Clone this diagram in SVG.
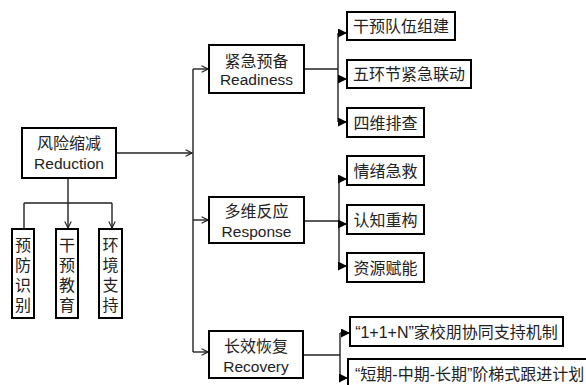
<svg xmlns="http://www.w3.org/2000/svg" width="586" height="385" viewBox="0 0 586 385">
<defs>
<style>
.box{fill:#fff;stroke:#000;stroke-width:2}
.cn{font-family:"Noto Sans CJK SC","Liberation Sans",sans-serif;font-size:16px;fill:#222}
.vt{font-family:"Noto Sans CJK SC","Liberation Sans",sans-serif;font-size:16px;fill:#222;writing-mode:vertical-rl;letter-spacing:4px}
.en{font-family:"Liberation Sans",Arial,sans-serif;font-size:15.5px;fill:#222}
.mx{font-family:"Liberation Sans","Noto Sans CJK SC",sans-serif;font-size:16px;fill:#222}
.ln{fill:none;stroke:#222;stroke-width:1.4}
.oa{marker-end:url(#open)}
.fa{marker-end:url(#fill)}
</style>
<marker id="open" viewBox="0 0 10 10" refX="9" refY="5" markerWidth="8" markerHeight="8" markerUnits="userSpaceOnUse" orient="auto">
<path d="M1,1 L9,5 L1,9" fill="none" stroke="#222" stroke-width="1.4"/>
</marker>
<marker id="fill" viewBox="0 0 10 10" refX="10" refY="5" markerWidth="9" markerHeight="9" markerUnits="userSpaceOnUse" orient="auto">
<path d="M0,0 L10,5 L0,10 z" fill="#000"/>
</marker>
</defs>
<rect width="586" height="385" fill="#fff"/>
<g id="connectors">
<path class="ln oa" d="M116,153 H192"/>
<path class="ln" d="M193,69 V352"/>
<path class="ln oa" d="M193,69 H208"/>
<path class="ln oa" d="M193,220 H208"/>
<path class="ln oa" d="M193,352 H208"/>
<path class="ln" d="M68,178 V203 M24,203 H112 M24,203 V229"/>
<path class="ln oa" d="M68,203 V228"/>
<path class="ln oa" d="M112,203 V228"/>
<path class="ln" d="M304,69 H338 M338,33 V122"/>
<path class="ln fa" d="M338,33 H347"/>
<path class="ln fa" d="M338,79 H347"/>
<path class="ln fa" d="M338,122 H347"/>
<path class="ln" d="M304,221 H339 M339,179 V266"/>
<path class="ln fa" d="M339,179 H347"/>
<path class="ln fa" d="M339,224 H347"/>
<path class="ln fa" d="M339,266 H347"/>
<path class="ln" d="M303,355 H340 M340,333 V378"/>
<path class="ln fa" d="M340,333 H350"/>
<path class="ln fa" d="M340,378 H348"/>
</g>
<g id="reduction">
<rect class="box" x="22" y="128" width="94" height="50"/>
<text class="cn" x="69" y="149" text-anchor="middle">风险缩减</text>
<text class="en" x="69" y="168.5" text-anchor="middle">Reduction</text>
</g>
<g id="yufang">
<rect class="box" x="12" y="229" width="22" height="89"/>
<text class="vt" x="23" y="237">预防识别</text>
</g>
<g id="ganyu">
<rect class="box" x="56" y="229" width="22" height="89"/>
<text class="vt" x="67" y="237">干预教育</text>
</g>
<g id="huanjing">
<rect class="box" x="99" y="229" width="23" height="89"/>
<text class="vt" x="110.5" y="237">环境支持</text>
</g>
<g id="readiness">
<rect class="box" x="209" y="45" width="95" height="48"/>
<text class="cn" x="256.5" y="67" text-anchor="middle">紧急预备</text>
<text class="en" x="256.5" y="84.5" text-anchor="middle">Readiness</text>
</g>
<g id="response">
<rect class="box" x="209" y="197" width="95" height="46"/>
<text class="cn" x="256.5" y="217" text-anchor="middle">多维反应</text>
<text class="en" x="256.5" y="236.5" text-anchor="middle">Response</text>
</g>
<g id="recovery">
<rect class="box" x="209" y="331" width="94" height="47"/>
<text class="cn" x="256" y="352" text-anchor="middle">长效恢复</text>
<text class="en" x="256" y="371.5" text-anchor="middle">Recovery</text>
</g>
<g id="r1">
<rect class="box" x="347" y="12" width="108" height="28"/>
<text class="cn" x="401" y="32" text-anchor="middle">干预队伍组建</text>
</g>
<g id="r2">
<rect class="box" x="347" y="60" width="124" height="28"/>
<text class="cn" x="409" y="80" text-anchor="middle">五环节紧急联动</text>
</g>
<g id="r3">
<rect class="box" x="347" y="108" width="77" height="29"/>
<text class="cn" x="385.5" y="128.5" text-anchor="middle">四维排查</text>
</g>
<g id="s1">
<rect class="box" x="347" y="156" width="77" height="29"/>
<text class="cn" x="385.5" y="176.5" text-anchor="middle">情绪急救</text>
</g>
<g id="s2">
<rect class="box" x="347" y="205" width="77" height="29"/>
<text class="cn" x="385.5" y="225.5" text-anchor="middle">认知重构</text>
</g>
<g id="s3">
<rect class="box" x="347" y="253" width="77" height="29"/>
<text class="cn" x="385.5" y="273.5" text-anchor="middle">资源赋能</text>
</g>
<g id="c1">
<rect class="box" x="350" y="317" width="213" height="29"/>
<text class="mx" x="456.5" y="337.5" text-anchor="middle">“1+1+N”家校朋协同支持机制</text>
</g>
<g id="c2">
<rect class="box" x="348" y="359" width="250" height="40"/>
<text class="mx" x="355" y="380">“短期-中期-长期”阶梯式跟进计划</text>
</g>
</svg>
